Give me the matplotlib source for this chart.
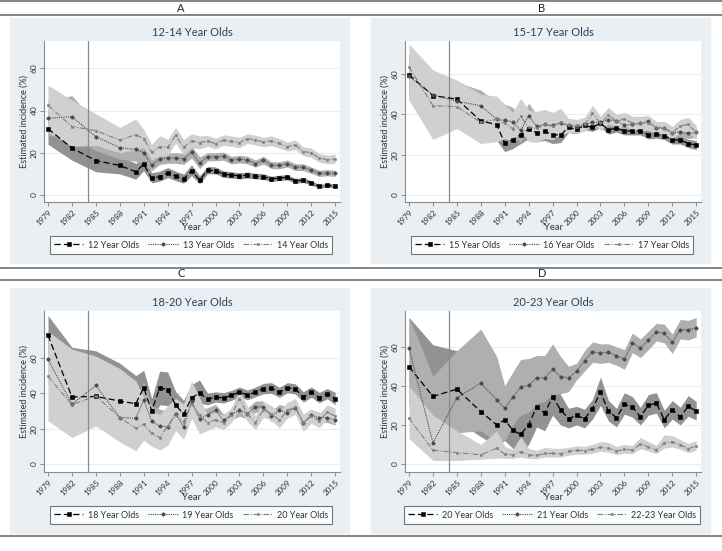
import numpy as np
import matplotlib
matplotlib.use("Agg")
import matplotlib.pyplot as plt
from matplotlib.patches import Rectangle
from matplotlib.lines import Line2D

plt.rcParams['font.family'] = ['Lato', 'DejaVu Sans']

W, H = 722, 551

# survey years (x axis)
years = [1979, 1982, 1985, 1988, 1990] + list(range(1991, 2016))
tick_years = list(range(1979, 2016, 3))

# ---- Panel A: 12-14 year olds ----
a_labels = ["12 Year Olds", "13 Year Olds", "14 Year Olds"]
a12 = [31.4, 22.2, 16.3, 14.0, 11.0, 14.6, 7.9, 8.7, 10.5, 8.9, 7.6, 11.6, 7.0, 11.7, 11.6,
       9.8, 9.5, 9.0, 9.4, 8.9, 8.7, 7.6, 8.1, 8.3, 6.7, 7.0, 5.7, 4.1, 4.6, 4.3]
a12_lo = [24, 16.5, 11, 10, 7.5, 11.5, 5.8, 6.5, 8.3, 6.8, 5.6, 9.2, 5.3, 10, 10,
          8.3, 8.1, 7.6, 8, 7.6, 7.4, 6.4, 6.9, 7.1, 5.6, 5.9, 4.7, 3.3, 3.7, 3.4]
a12_hi = [39.5, 28.5, 22, 18.5, 15, 18, 10.5, 11.3, 13, 11.3, 9.9, 14.3, 9.2, 13.5, 13.3,
          11.4, 11, 10.5, 10.9, 10.3, 10.1, 8.9, 9.4, 9.6, 7.9, 8.2, 6.8, 5, 5.6, 5.3]
a13 = [36.3, 37.1, 27.6, 22.4, 21.6, 20.0, 14.1, 17.1, 17.5, 17.5, 17.1, 20.3, 15.2, 18.1, 18.1,
       18.4, 16.5, 17.0, 16.5, 14.9, 16.5, 14.1, 14.0, 14.9, 13.2, 13.2, 11.7, 10.2, 10.5, 10.2]
a13_lo = [28, 28, 21, 17, 16, 15, 11.5, 14.5, 15, 15, 14.5, 17.5, 12.5, 16.2, 16.2,
          16.5, 14.7, 15.2, 14.7, 13.2, 14.7, 12.5, 12.4, 13.3, 11.6, 11.6, 10.2, 8.8, 9.1, 8.8]
a13_hi = [45, 47, 34.5, 28, 27.5, 25, 16.8, 19.8, 20, 20, 19.8, 23.2, 18, 20, 20,
          20.3, 18.3, 18.8, 18.3, 16.6, 18.3, 15.8, 15.7, 16.6, 14.8, 14.8, 13.3, 11.7, 12, 11.7]
a14 = [42.5, 32.4, 30.5, 26.0, 28.6, 26.7, 20.3, 22.9, 22.5, 28.3, 22.5, 25.7, 24.8, 25.6, 24.3,
       26.0, 25.4, 24.8, 26.7, 26.0, 25.1, 25.7, 24.4, 22.9, 23.8, 20.6, 20.0, 17.5, 16.8, 17.1]
a14_lo = [30, 23, 23.5, 20, 21.5, 22.5, 16.8, 18.5, 18.7, 24.6, 19, 22.5, 21.8, 23.1, 21.8,
          23.6, 23, 22.4, 24.4, 23.7, 22.8, 23.4, 22.2, 20.8, 21.6, 18.5, 17.9, 15.5, 14.8, 15.1]
a14_hi = [52, 45, 38.5, 32, 36, 31, 24, 28, 26.5, 32, 26.3, 29, 28, 28.2, 26.9,
          28.5, 27.9, 27.3, 29, 28.3, 27.4, 28, 26.7, 25.1, 26.1, 22.8, 22.2, 19.6, 18.9, 19.3]

# ---- Panel B: 15-17 year olds ----
b_labels = ["15 Year Olds", "16 Year Olds", "17 Year Olds"]
b15 = [59.7, 49.3, 47.6, 36.7, 34.9, 25.6, 27.5, 29.8, 32.8, 30.8, 31.5, 29.8, 29.8, 33.5, 32.5,
       34.5, 33.5, 35.7, 32.2, 33.2, 31.8, 31.8, 31.8, 29.8, 30.2, 29.5, 27.3, 27.3, 25.5, 24.8]
b15_lo = [50, 40, 38, 28, 27, 21.5, 23, 25.5, 28, 26.5, 27, 25.5, 26, 31, 30.5,
          32.5, 31.5, 33.5, 30.2, 31.2, 29.8, 29.8, 29.8, 27.8, 28.2, 27.5, 25.3, 25.3, 23.5, 22.5]
b15_hi = [70, 58, 56, 46, 43, 30, 32, 34, 37.5, 35, 36, 34, 33.5, 36, 34.5,
          36.5, 35.5, 38, 34.3, 35.3, 33.9, 33.9, 33.9, 31.9, 32.3, 31.6, 29.4, 29.4, 27.6, 27]
b16 = [58.8, 49.6, 46.5, 44.3, 37.5, 37.0, 36.3, 32.0, 39.3, 34.0, 35.0, 34.5, 35.8, 34.5, 33.5,
       35.0, 36.0, 36.0, 37.3, 36.7, 34.5, 35.0, 35.5, 36.5, 33.3, 33.0, 30.8, 31.3, 30.5, 31.0]
b16_lo = [48, 38, 36, 35, 29, 29, 29, 26, 32, 28, 29.5, 29, 30, 31, 30.5,
          32, 33, 33, 34.5, 34, 32, 32.5, 33, 34, 31, 30.8, 28.5, 29, 28, 28.5]
b16_hi = [69, 60, 56, 52, 46, 45, 43.5, 38.5, 45.5, 40, 40.5, 40, 41.5, 37.5, 36.5,
          38, 39, 39, 40, 39.4, 37, 37.5, 38, 39, 35.6, 35.2, 33, 33.6, 33, 33.5]
b17 = [63.5, 44.3, 43.8, 36.0, 37.5, 35.5, 32.8, 39.0, 33.5, 33.0, 35.0, 34.0, 36.0, 34.5, 34.5,
       35.0, 40.5, 35.5, 39.5, 36.5, 37.8, 35.5, 35.5, 35.5, 33.5, 33.3, 30.8, 34.3, 35.0, 31.0]
b17_lo = [47, 27.5, 33, 25.5, 26.5, 28, 26.5, 32, 26.5, 26, 28, 27.5, 30, 31, 31,
          31.5, 36.5, 32, 35.5, 33, 34.5, 32, 32, 32, 30.5, 30, 27.8, 31, 31.5, 27.5]
b17_hi = [75, 62, 57, 50, 49, 45, 41, 48, 42, 41.5, 42.5, 41, 43, 38, 37.5,
          38.5, 44.5, 39, 43.5, 40, 41, 39, 39, 39.5, 36.5, 36.5, 34, 37.5, 38.5, 34.5]

# ---- Panel C: 18-20 year olds ----
c_labels = ["18 Year Olds", "19 Year Olds", "20 Year Olds"]
c18 = [72.8, 37.9, 38.2, 35.6, 34.1, 43.1, 30.0, 43.1, 42.0, 33.4, 28.1, 37.5, 40.1, 36.6, 37.9,
       37.3, 38.8, 40.7, 39.0, 40.7, 42.6, 42.9, 40.5, 43.1, 42.4, 37.9, 40.7, 37.5, 39.8, 36.9]
c18_lo = [62, 30, 30, 28, 27, 34, 24, 33.5, 33, 27, 22, 31, 34.5, 33.5, 35,
          34.5, 36, 38, 36.3, 38, 39.7, 40, 37.7, 40.3, 39.6, 35, 37.8, 34.6, 36.9, 33.5]
c18_hi = [84, 66, 64, 57, 50, 53, 37, 52.5, 52, 41, 36, 45, 47.5, 40, 40.8,
          40.3, 41.6, 43.5, 41.8, 43.5, 45.6, 46, 43.4, 46, 45.3, 40.9, 43.6, 40.5, 42.7, 40.5]
c19 = [59.1, 33.8, 44.4, 26.3, 25.9, 36.0, 24.4, 21.4, 21.0, 28.5, 21.0, 35.5, 25.3, 28.0, 30.4,
       24.8, 28.1, 30.4, 28.5, 32.3, 32.3, 27.0, 30.4, 28.9, 31.9, 23.3, 27.6, 26.3, 26.3, 24.8]
c19_lo = [45, 22, 32, 18, 16, 27, 17, 14, 14, 22, 16, 29, 20.5, 24.5, 27,
          21.5, 25, 27, 25.5, 29.2, 29.2, 24, 27.3, 26, 28.8, 20.5, 24.8, 23.5, 23.5, 22]
c19_hi = [73, 50, 57, 38, 37, 46, 33, 31, 30, 36, 28, 42, 31, 31.8, 33.8,
          28.2, 31.4, 33.8, 31.8, 35.6, 35.6, 30.2, 33.7, 32.1, 35.2, 26.3, 30.6, 29.2, 29.2, 27.8]
c20 = [49.5, 33.6, 38.4, 26.3, 20.3, 22.5, 17.3, 15.0, 21.4, 27.6, 23.8, 34.1, 27.6, 23.3, 25.1,
       23.3, 27.6, 36.9, 28.1, 23.3, 30.8, 28.5, 24.8, 30.4, 32.3, 23.3, 27.0, 24.4, 29.4, 27.0]
c20_lo = [24.4, 15, 21.5, 12.5, 7.5, 13.5, 10, 8, 10.5, 19, 14, 26, 17, 19, 21,
          19.5, 23.5, 31.5, 24, 19.5, 26.5, 24.5, 20.5, 26, 28, 18.5, 23, 20.5, 25.5, 22.5]
c20_hi = [75, 65, 61, 54, 47, 38, 30, 28, 33, 37, 34, 47, 37.5, 28, 29.5,
          27.5, 32, 42, 32.5, 27.5, 35.3, 33, 29.3, 35, 37, 28.3, 31.2, 28.5, 33.5, 31.5]

# ---- Panel D: 20-23 year olds ----
d_labels = ["20 Year Olds", "21 Year Olds", "22-23 Year Olds"]
d20 = [49.8, 34.6, 38.3, 26.8, 20.0, 22.7, 17.3, 15.1, 20.2, 29.2, 26.1, 34.2, 27.8, 23.2, 24.9,
       23.1, 28.3, 36.8, 27.1, 23.7, 30.5, 29.2, 24.1, 30.0, 31.2, 22.7, 27.8, 24.1, 29.5, 27.1]
d20_lo = [30, 18, 22, 14, 9, 12, 8, 6, 10, 19, 17, 25, 20, 18.5, 20,
          18.5, 23, 30, 22, 19, 25.5, 24, 20, 25, 26, 18.5, 23, 20, 24.5, 22.5]
d20_hi = [75, 61, 58, 40, 32, 33, 27, 25, 30, 38, 35, 43, 35.5, 28.5, 29.5,
          28, 33, 44.5, 32.5, 28.5, 36.5, 34.5, 29, 35.5, 36.5, 27.5, 32.5, 29, 35, 32]
d21 = [59.3, 10.8, 33.9, 41.4, 32.9, 28.5, 34.2, 39.3, 40.2, 44.1, 44.1, 48.5, 44.7, 44.1, 47.5,
       52.9, 57.3, 56.9, 57.1, 55.4, 53.7, 62.0, 59.3, 63.4, 67.5, 66.9, 62.2, 68.8, 68.5, 69.8]
d21_lo = [40, 3, 16, 17, 11, 12, 20, 25, 26.5, 31, 32, 35.5, 36, 37, 43,
          47.5, 52, 51.5, 52, 50.5, 48.5, 57, 54.5, 58.5, 63, 62, 56.5, 64, 63.5, 65]
d21_hi = [75, 45, 58, 69, 55, 40, 47, 53.5, 54, 55.5, 55.5, 61.5, 55, 50, 51.5,
          58, 62.5, 61.5, 61.5, 60, 58.5, 67, 64, 68, 72, 71.5, 66.5, 74, 73.5, 75]
d22 = [23.4, 7.1, 5.8, 4.7, 8.1, 5.1, 4.6, 6.3, 4.7, 4.4, 5.4, 5.4, 5.3, 6.4, 7.1,
       6.8, 7.6, 8.5, 8.1, 6.6, 7.5, 7.1, 10.2, 8.8, 7.1, 10.8, 11.4, 9.8, 7.8, 9.2]
d22_lo = [13, 1.8, 1.8, 2.5, 3, 3, 2.8, 3.5, 2.8, 2.7, 3.5, 3.5, 3.5, 4.5, 5,
          5, 5.5, 6.5, 6, 4.8, 5.5, 5.2, 7.8, 6.7, 5.3, 8.2, 8.7, 7.5, 5.8, 7]
d22_hi = [40, 25, 17, 10, 17, 9, 7.5, 14, 8, 7, 8.5, 8, 8, 8.5, 9.3,
          9, 10, 11.5, 11, 9, 10, 9.5, 13.5, 11.5, 9.5, 15, 14.5, 12.5, 10.5, 12]

band_colors = ['#929292', '#afafaf', '#d0d0d0']
line_styles = [
    dict(color='black', ls=(0, (5, 2.5)), lw=0.9, marker='s', ms=2.2),
    dict(color='#4a4a4a', ls=(0, (1, 1)), lw=0.8, marker='o', ms=2.4),
    dict(color='#808080', ls=(0, (5, 1.5, 1, 1.5)), lw=0.8, marker='s', ms=2.1),
]
bg_color = '#e9eff2'
title_color = '#2f4257'
text_color = '#333333'


def px(x, y):
    return x / W, 1 - y / H


fig = plt.figure(figsize=(W / 100, H / 100), dpi=100, facecolor='white')

# header rules and letters
for y in [1, 15, 268, 280, 536]:
    fig.add_artist(Line2D([0, 1], [1 - y / H] * 2, transform=fig.transFigure,
                          color='#7a7a7a', lw=1.3))
for letter, x, y in [("A", 181, 8), ("B", 542, 8), ("C", 181, 274), ("D", 542, 274)]:
    fig.text(*px(x, y), letter, ha='center', va='center', fontsize=8, color='#222222')


def panel(x0, y0, title, labels, series, ylim):
    # panel background
    fig.add_artist(Rectangle(px(x0 + 10, y0 + 245), 339 / W, 245 / H,
                             transform=fig.transFigure, color=bg_color, zorder=0))
    fig.text(*px(x0 + 192, y0 + 15), title, ha='center', va='center',
             fontsize=8, color=title_color)
    ax = fig.add_axes([(x0 + 44) / W, 1 - (y0 + 184) / H, 296 / W, 161 / H])
    ax.set_facecolor('white')
    for (v, lo, hi), c in zip(series, band_colors):
        ax.fill_between(years, lo, hi, color=c, lw=0, zorder=1)
    ax.axvline(1984, color='#8a8a8a', lw=0.9, zorder=2)
    handles = []
    for (v, lo, hi), st, lab in zip(series, line_styles, labels):
        h, = ax.plot(years, v, color=st['color'], ls=st['ls'], lw=st['lw'],
                     marker=st['marker'], ms=st['ms'], mec=st['color'], mfc=st['color'],
                     mew=0.4, zorder=3, label=lab)
        handles.append(h)
    ax.set_xlim(1978.5, 2015.6)
    ax.set_ylim(*ylim)
    ax.set_yticks([0, 20, 40, 60])
    ax.set_xticks(tick_years)
    ax.set_xticklabels([str(t) for t in tick_years], rotation=45, ha='right',
                       rotation_mode='anchor', fontsize=5.8, color=text_color)
    ax.set_yticklabels(['0', '20', '40', '60'], rotation=90, va='center',
                       fontsize=6, color=text_color)
    ax.grid(axis='y', color='#e8eef1', lw=0.8, zorder=0)
    ax.set_axisbelow(True)
    for s in ['top', 'right']:
        ax.spines[s].set_visible(False)
    for s in ['left', 'bottom']:
        ax.spines[s].set_color('#8a8a8a')
        ax.spines[s].set_linewidth(0.8)
    ax.tick_params(colors='#8a8a8a', labelcolor=text_color, length=3, width=0.7, pad=1.5)
    fig.text(*px(x0 + 24, y0 + 103), "Estimated incidence (%)", rotation=90,
             ha='center', va='center', fontsize=6.5, color=text_color)
    fig.text(*px(x0 + 192, y0 + 210), "Year", ha='center', va='center',
             fontsize=6.8, color=text_color)
    leg = ax.legend(handles=handles, loc='center', ncol=3,
                    bbox_to_anchor=px(x0 + 191, y0 + 227), bbox_transform=fig.transFigure,
                    fontsize=6.5, handlelength=3.3, columnspacing=1.0, handletextpad=0.5,
                    frameon=True, fancybox=False, borderpad=0.45, numpoints=1)
    leg.get_frame().set_edgecolor('#555555')
    leg.get_frame().set_linewidth(0.8)
    for t in leg.get_texts():
        t.set_color(text_color)
    return ax


panel(0, 18, "12-14 Year Olds", a_labels,
      [(a12, a12_lo, a12_hi), (a13, a13_lo, a13_hi), (a14, a14_lo, a14_hi)], (-3.3, 72.9))
panel(361, 18, "15-17 Year Olds", b_labels,
      [(b15, b15_lo, b15_hi), (b16, b16_lo, b16_hi), (b17, b17_lo, b17_hi)], (-3.5, 76.4))
panel(0, 288, "18-20 Year Olds", c_labels,
      [(c18, c18_lo, c18_hi), (c19, c19_lo, c19_hi), (c20, c20_lo, c20_hi)], (-4.5, 86.5))
panel(361, 288, "20-23 Year Olds", d_labels,
      [(d20, d20_lo, d20_hi), (d21, d21_lo, d21_hi), (d22, d22_lo, d22_hi)], (-4.1, 78.3))

fig.savefig("out.png", dpi=100, facecolor='white')
